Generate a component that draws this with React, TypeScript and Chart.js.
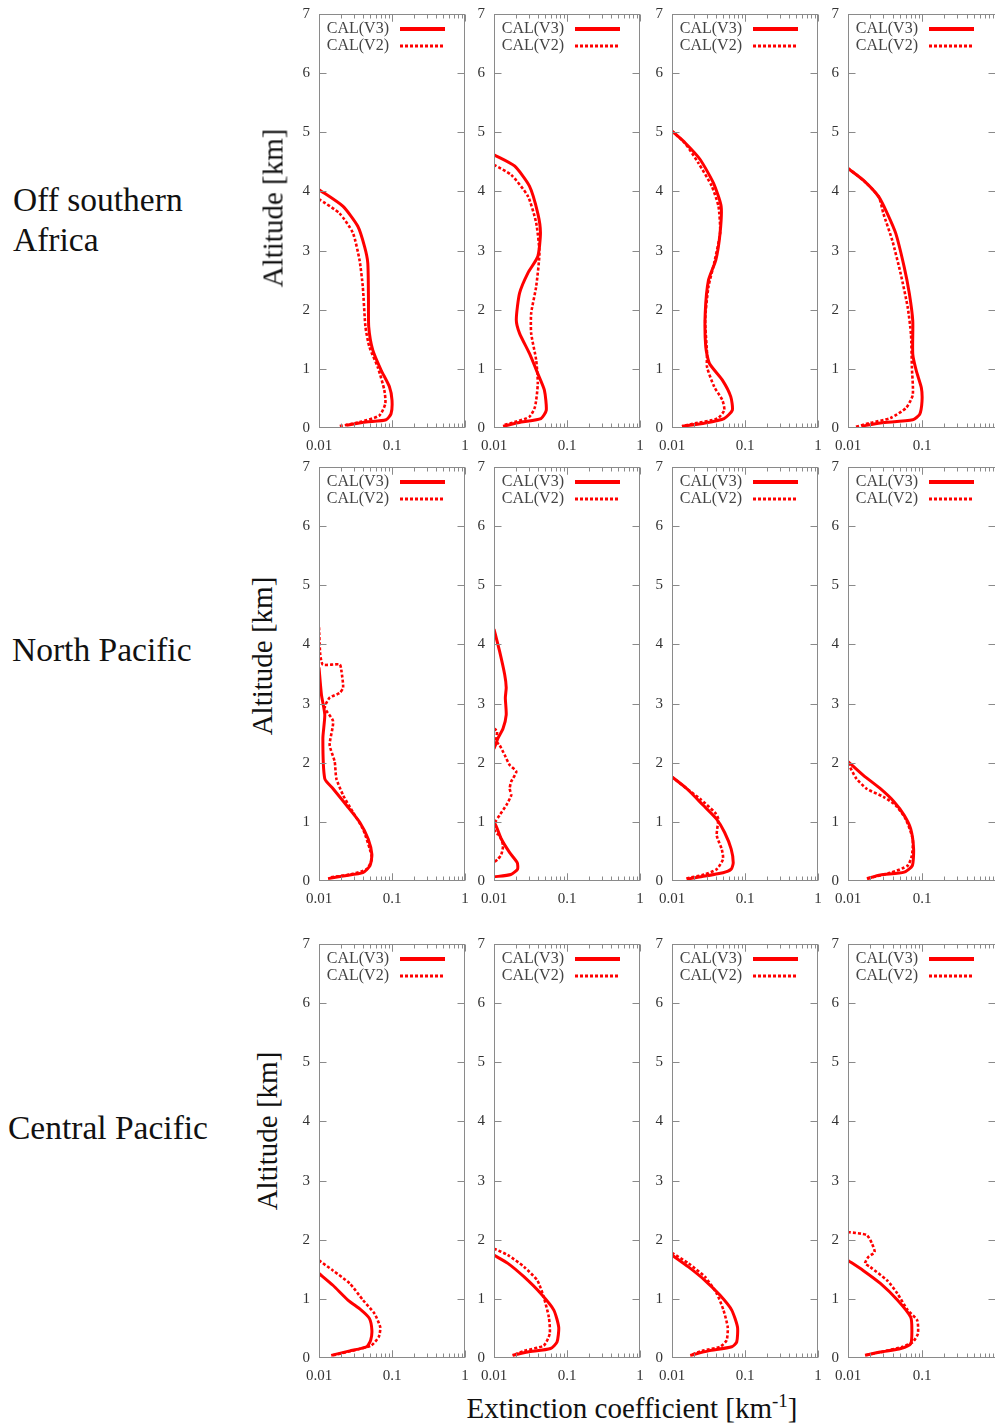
import React, { useEffect, useRef } from "react";
import { Chart, registerables } from "chart.js";
Chart.register(...registerables);

const FONT = "'Liberation Serif', 'Times New Roman', serif";
const RED = "#ff0000";

// [extinction (km^-1), altitude (km)], listed top to bottom
const SA1_V3 = [[0.01,4.03],[0.0212,3.75],[0.034,3.41],[0.042,3.07],[0.0466,2.79],[0.0476,2.17],[0.048,1.71],[0.0544,1.32],[0.0708,0.98],[0.092,0.70],[0.1,0.47],[0.097,0.24],[0.083,0.14],[0.044,0.10],[0.0236,0.045]];
const SA1_V2 = [[0.01,3.87],[0.0191,3.63],[0.0291,3.30],[0.0359,2.84],[0.0398,2.39],[0.0433,1.71],[0.049,1.37],[0.0638,1.03],[0.0785,0.64],[0.081,0.41],[0.067,0.21],[0.036,0.10],[0.019,0.03]];
const SA2_V3 = [[0.01,4.62],[0.0191,4.43],[0.0306,4.09],[0.0398,3.63],[0.0433,3.30],[0.0398,2.90],[0.0291,2.62],[0.0224,2.28],[0.0202,1.83],[0.0224,1.60],[0.0306,1.26],[0.0398,0.92],[0.049,0.64],[0.052,0.30],[0.044,0.16],[0.0236,0.10],[0.0133,0.03]];
const SA2_V2 = [[0.01,4.45],[0.0172,4.28],[0.0291,3.92],[0.0378,3.47],[0.0419,2.96],[0.0378,2.39],[0.0323,1.94],[0.0323,1.60],[0.0378,1.15],[0.0398,0.75],[0.0365,0.36],[0.0306,0.19],[0.0191,0.10],[0.0133,0.045]];
const SA3_V3 = [[0.01,5.02],[0.0152,4.82],[0.0243,4.54],[0.037,4.14],[0.0471,3.75],[0.0456,3.30],[0.0398,2.84],[0.0316,2.50],[0.0285,1.94],[0.029,1.37],[0.0326,1.09],[0.049,0.81],[0.0638,0.53],[0.067,0.30],[0.0517,0.16],[0.0285,0.085],[0.0137,0.03]];
const SA3_V2 = [[0.01,5.02],[0.0152,4.81],[0.023,4.48],[0.035,4.09],[0.0433,3.75],[0.0456,3.30],[0.0378,2.79],[0.0316,2.39],[0.0285,1.83],[0.0302,1.26],[0.0302,1.03],[0.0378,0.70],[0.049,0.47],[0.052,0.30],[0.0419,0.16],[0.0191,0.07],[0.0137,0.03]];
const SA4_V3 = [[0.01,4.39],[0.0161,4.19],[0.026,3.91],[0.0339,3.63],[0.0442,3.29],[0.0575,2.72],[0.0675,2.27],[0.075,1.81],[0.075,1.25],[0.084,0.96],[0.098,0.68],[0.1,0.45],[0.093,0.23],[0.075,0.14],[0.0274,0.085],[0.0153,0.03]];
const SA4_V2 = [[0.01,4.39],[0.0161,4.19],[0.026,3.91],[0.030,3.63],[0.0397,3.17],[0.0517,2.6],[0.0641,2.04],[0.071,1.58],[0.073,1.02],[0.075,0.56],[0.061,0.34],[0.0377,0.17],[0.0199,0.085],[0.0124,0.015]];

const NP1_V3 = [[0.01,3.61],[0.0108,3.15],[0.012,2.81],[0.0113,2.41],[0.012,1.73],[0.0156,1.56],[0.0238,1.28],[0.0363,0.99],[0.0472,0.71],[0.053,0.45],[0.05,0.26],[0.040,0.14],[0.0214,0.085],[0.0133,0.04]];
const NP1_V2 = [[0.01,4.29],[0.0104,3.83],[0.0113,3.66],[0.0192,3.66],[0.0203,3.55],[0.0214,3.27],[0.0192,3.18],[0.014,3.10],[0.012,2.93],[0.0156,2.70],[0.014,2.30],[0.0164,2.02],[0.0173,1.73],[0.0214,1.45],[0.0293,1.16],[0.040,0.88],[0.0497,0.54],[0.053,0.37],[0.045,0.20],[0.0265,0.11],[0.014,0.06]];
const NP2_V3 = [[0.01,4.26],[0.0119,3.89],[0.014,3.49],[0.0147,3.27],[0.0143,3.10],[0.0147,2.81],[0.0133,2.58],[0.0113,2.41],[0.01,2.24],[0.007,2.0],[0.006,1.5],[0.007,1.1],[0.01,1.0],[0.0126,0.71],[0.0164,0.48],[0.0208,0.31],[0.021,0.20],[0.017,0.11],[0.01,0.07]];
const NP2_V2 = [[0.01,2.58],[0.011,2.53],[0.0107,2.36],[0.0119,2.30],[0.014,2.13],[0.0164,1.96],[0.0202,1.85],[0.0172,1.68],[0.0164,1.56],[0.0172,1.45],[0.0147,1.28],[0.0119,1.11],[0.0104,0.99],[0.0104,0.82],[0.0119,0.77],[0.0133,0.60],[0.0126,0.45],[0.0113,0.37],[0.01,0.32],[0.007,0.25]];
const NP3_V3 = [[0.01,1.76],[0.016,1.56],[0.0268,1.28],[0.0406,1.05],[0.0526,0.82],[0.0647,0.54],[0.069,0.31],[0.0647,0.20],[0.05,0.14],[0.0218,0.06],[0.016,0.03]];
const NP3_V2 = [[0.01,1.76],[0.016,1.56],[0.0242,1.39],[0.0386,1.16],[0.043,1.05],[0.041,0.77],[0.048,0.54],[0.05,0.37],[0.041,0.20],[0.0279,0.11],[0.0152,0.04]];
const NP4_V3 = [[0.01,2.02],[0.016,1.79],[0.0274,1.56],[0.0419,1.34],[0.0575,1.11],[0.0704,0.88],[0.077,0.54],[0.074,0.26],[0.0575,0.15],[0.0274,0.10],[0.018,0.04]];
const NP4_V2 = [[0.01,1.99],[0.013,1.73],[0.0179,1.56],[0.0305,1.42],[0.044,1.28],[0.06,1.05],[0.075,0.71],[0.073,0.43],[0.064,0.26],[0.0377,0.14],[0.018,0.04]];

const CP1_V3 = [[0.01,1.43],[0.0155,1.23],[0.0249,0.98],[0.0379,0.81],[0.049,0.67],[0.053,0.47],[0.051,0.30],[0.0449,0.19],[0.0264,0.12],[0.0147,0.045]];
const CP1_V2 = [[0.01,1.65],[0.0155,1.48],[0.0264,1.26],[0.04,0.98],[0.0576,0.75],[0.069,0.52],[0.066,0.36],[0.0518,0.21],[0.0277,0.12],[0.0155,0.045]];
const CP2_V3 = [[0.01,1.74],[0.0155,1.60],[0.0259,1.37],[0.0437,1.09],[0.066,0.81],[0.077,0.52],[0.073,0.27],[0.0595,0.16],[0.029,0.10],[0.018,0.045]];
const CP2_V2 = [[0.01,1.85],[0.0155,1.74],[0.0259,1.54],[0.0393,1.31],[0.048,1.03],[0.0564,0.69],[0.058,0.41],[0.048,0.21],[0.0259,0.12],[0.018,0.045]];
const CP3_V3 = [[0.01,1.74],[0.0168,1.54],[0.0284,1.31],[0.0456,1.06],[0.0658,0.81],[0.079,0.52],[0.077,0.27],[0.066,0.19],[0.0316,0.12],[0.0178,0.045]];
const CP3_V2 = [[0.01,1.78],[0.0168,1.60],[0.0284,1.37],[0.041,1.09],[0.0507,0.81],[0.058,0.52],[0.056,0.30],[0.0456,0.19],[0.0256,0.12],[0.0178,0.045]];
const CP4_V3 = [[0.01,1.65],[0.016,1.48],[0.0274,1.26],[0.0465,0.98],[0.0704,0.69],[0.073,0.47],[0.0704,0.24],[0.0517,0.16],[0.0274,0.10],[0.017,0.045]];
const CP4_V2 = [[0.01,2.13],[0.0179,2.08],[0.021,1.94],[0.0229,1.79],[0.0189,1.71],[0.017,1.60],[0.0199,1.54],[0.0339,1.31],[0.0465,1.09],[0.064,0.81],[0.086,0.64],[0.088,0.41],[0.075,0.27],[0.055,0.19],[0.0274,0.10],[0.017,0.045]];

const X_TICKS = [0.01, 0.1, 1];
const Y_TICKS = [0, 1, 2, 3, 4, 5, 6, 7];
const SERIES_LABELS = ["CAL(V3)", "CAL(V2)"];
const REGION_LABELS = [["Off southern", "Africa"], ["North Pacific"], ["Central Pacific"]];
const X_TITLE = "Extinction coefficient [km";
const Y_TITLE = "Altitude [km]";

const PANEL_DATA = [
  [SA1_V3, SA1_V2], [SA2_V3, SA2_V2], [SA3_V3, SA3_V2], [SA4_V3, SA4_V2],
  [NP1_V3, NP1_V2], [NP2_V3, NP2_V2], [NP3_V3, NP3_V2], [NP4_V3, NP4_V2],
  [CP1_V3, CP1_V2], [CP2_V3, CP2_V2], [CP3_V3, CP3_V2], [CP4_V3, CP4_V2],
];

// layout
const COL_LEFT = [319, 494, 672, 848];
const COL_W = [146, 146, 146, 148];
const ROW_TOP = [14, 467, 944];
const PLOT_H = 414;
const PAD_L = 34, PAD_T = 12, PAD_R = 14, PAD_B = 30;
const REGION_Y = [[200, 240], [650], [1128]];
const REGION_X = [13, 12, 8];
const ALT_X = [273, 262, 267];
const ALT_Y = [208, 656, 1131];

const framePlugin = {
  id: "frame",
  afterDatasetsDraw(chart: any) {
    const { ctx, chartArea: a, scales } = chart;
    const x = scales.x, y = scales.y;
    ctx.save();
    ctx.strokeStyle = "#8a8a8a";
    ctx.lineWidth = 1;
    const L = Math.round(a.left) + 0.5, R = Math.round(a.right) - 0.5;
    const T = Math.round(a.top) + 0.5, B = Math.round(a.bottom) - 0.5;
    ctx.strokeRect(L, T, R - L, B - T);
    ctx.beginPath();
    for (let v = 1; v < 7; v++) {
      const py = Math.round(y.getPixelForValue(v)) + 0.5;
      ctx.moveTo(L, py); ctx.lineTo(L + 7, py);
      ctx.moveTo(R, py); ctx.lineTo(R - 7, py);
    }
    for (const d of [0.01, 0.1]) {
      for (let m = 1; m <= 10; m++) {
        const px = Math.round(x.getPixelForValue(d * m)) + 0.5;
        const len = m === 1 || m === 10 ? 7 : 4;
        ctx.moveTo(px, B); ctx.lineTo(px, B - len);
        ctx.moveTo(px, T); ctx.lineTo(px, T + len);
      }
    }
    ctx.stroke();
    // legend
    const ds = chart.data.datasets;
    ctx.font = `16px ${FONT}`;
    ctx.fillStyle = "#444";
    ctx.textAlign = "right";
    ctx.textBaseline = "middle";
    ds.forEach((d: any, i: number) => {
      const ly = a.top + 15 + i * 17;
      ctx.fillText(d.label, a.left + 70, ly);
      ctx.beginPath();
      ctx.strokeStyle = d.borderColor;
      ctx.lineWidth = i === 0 ? 4 : 3;
      ctx.setLineDash(d.borderDash || []);
      ctx.moveTo(a.left + 81, ly);
      ctx.lineTo(a.left + 126, ly);
      ctx.stroke();
      ctx.setLineDash([]);
    });
    ctx.restore();
  },
};

function Panel({ idx }: { idx: number }) {
  const ref = useRef<HTMLCanvasElement>(null);
  const row = Math.floor(idx / 4), col = idx % 4;
  const w = COL_W[col];
  const cw = PAD_L + w + PAD_R, ch = PAD_T + PLOT_H + PAD_B;
  useEffect(() => {
    const [v3, v2] = PANEL_DATA[idx];
    const chart = new Chart(ref.current as HTMLCanvasElement, {
      type: "scatter",
      data: {
        datasets: [
          {
            label: SERIES_LABELS[0],
            data: v3.map(([e, h]) => ({ x: e, y: h })),
            showLine: true, borderColor: RED, borderWidth: 3, pointRadius: 0, tension: 0.2,
          },
          {
            label: SERIES_LABELS[1],
            data: v2.map(([e, h]) => ({ x: e, y: h })),
            showLine: true, borderColor: RED, borderWidth: 2.6, borderDash: [3, 2], pointRadius: 0, tension: 0.2,
          },
        ],
      },
      options: {
        animation: false,
        responsive: false,
        maintainAspectRatio: false,
        layout: { padding: { top: PAD_T, right: PAD_R, left: 0, bottom: 0 } },
        plugins: { legend: { display: false }, tooltip: { enabled: false } },
        scales: {
          x: {
            type: "logarithmic", min: 0.01, max: 1,
            grid: { display: false, drawTicks: false, tickLength: 0 }, border: { display: false },
            afterBuildTicks: (s: any) => { s.ticks = X_TICKS.map((v) => ({ value: v, major: true })); },
            afterFit: (s: any) => { s.height = PAD_B; s.paddingLeft = 0; s.paddingRight = 0; },
            ticks: {
              autoSkip: false, maxRotation: 0, padding: 9, color: "#333",
              font: { family: FONT, size: 15 },
              callback: (v: any) => (col === 3 && v === 1 ? "" : String(v)),
            },
          },
          y: {
            type: "linear", min: 0, max: 7,
            grid: { display: false, drawTicks: false, tickLength: 0 }, border: { display: false },
            afterBuildTicks: (s: any) => { s.ticks = Y_TICKS.map((v) => ({ value: v })); },
            afterFit: (s: any) => { s.width = PAD_L; s.paddingTop = 0; s.paddingBottom = 0; },
            ticks: { padding: 9, color: "#333", font: { family: FONT, size: 15 } },
          },
        },
      } as any,
      plugins: [framePlugin],
    });
    return () => chart.destroy();
  }, [idx]);
  return (
    <canvas
      ref={ref}
      width={cw}
      height={ch}
      style={{ position: "absolute", left: COL_LEFT[col] - PAD_L, top: ROW_TOP[row] - PAD_T, width: cw, height: ch }}
    />
  );
}

export default function App() {
  return (
    <div style={{ position: "absolute", left: 0, top: 0, width: 995, height: 1423, overflow: "hidden", background: "#fff", fontFamily: FONT, color: "#111" }}>
      {PANEL_DATA.map((_, i) => <Panel key={i} idx={i} />)}
      {REGION_LABELS.map((lines, r) =>
        lines.map((t, k) => (
          <div key={`${r}-${k}`} style={{ position: "absolute", left: REGION_X[r], top: REGION_Y[r][k], transform: "translateY(-50%)", fontSize: 33.5, lineHeight: 1, whiteSpace: "nowrap" }}>{t}</div>
        ))
      )}
      {ALT_Y.map((cy, r) => (
        <div key={`alt${r}`} style={{ position: "absolute", left: ALT_X[r], top: cy, transform: "translate(-50%,-50%) rotate(-90deg)", fontSize: 29, lineHeight: 1, whiteSpace: "nowrap" }}>{Y_TITLE}</div>
      ))}
      <div style={{ position: "absolute", left: 632, top: 1408, transform: "translate(-50%,-50%)", fontSize: 29, lineHeight: 1, whiteSpace: "nowrap" }}>
        {X_TITLE}<sup style={{ fontSize: 19, verticalAlign: "0.55em", lineHeight: 0 }}>-1</sup>]
      </div>
    </div>
  );
}
